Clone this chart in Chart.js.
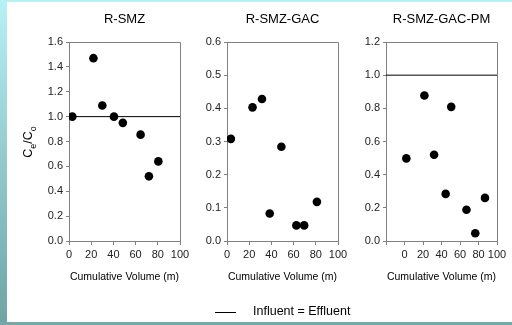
<!DOCTYPE html>
<html>
<head>
<meta charset="utf-8">
<script src="https://cdn.jsdelivr.net/npm/chart.js@4/dist/chart.umd.min.js"></script>
<style>
body{margin:0;width:512px;height:325px;overflow:hidden;position:relative;
background:linear-gradient(#b6f1f5,#6fa3a4);font-family:"Liberation Sans",Arial,sans-serif}
#page{position:absolute;left:7px;top:2px;width:505px;height:320px;background:#fff}
#bottom{position:absolute;left:0;top:322px;width:512px;height:3px;background:#76a8a9}
canvas{position:absolute;top:0}
#legend{position:absolute;left:215px;top:303px;height:18px;font-size:12.5px;color:#000;white-space:nowrap}
#legend .ln{position:absolute;left:0;top:9px;width:21px;height:1px;background:#000}
#legend .tx{position:absolute;left:38px;top:1px}
</style>
</head>
<body>
<div id="page"></div>
<div id="bottom"></div>
<canvas id="c1" width="176" height="325" style="left:19px"></canvas>
<canvas id="c2" width="176" height="325" style="left:177px"></canvas>
<canvas id="c3" width="176" height="325" style="left:336px"></canvas>
<div id="legend"><div class="ln"></div><span class="tx">Influent = Effluent</span></div>
<script>
// data
const titles = ["R-SMZ", "R-SMZ-GAC", "R-SMZ-GAC-PM"]

const smzX = [3, 22, 30, 40.5, 48.5, 64.5, 72, 80.5]
const smzY = [1.0, 1.47, 1.09, 1.0, 0.95, 0.855, 0.52, 0.64]

const gacX = [3.5, 23, 31.5, 38.5, 49, 62.5, 69.5, 81]
const gacY = [0.308, 0.403, 0.428, 0.083, 0.284, 0.047, 0.047, 0.118]

const pmX = [2, 21.5, 32, 44.5, 50.5, 67, 76.5, 87]
const pmY = [0.498, 0.877, 0.52, 0.284, 0.809, 0.188, 0.047, 0.26]

// x range per panel and y max/step
const xMin = [0, 0, -20]
const xMax = [100, 100, 100]
const yMax = [1.6, 0.6, 1.2]
const yStep = [0.2, 0.1, 0.2]

// influent = effluent line
const refY = 1.0

const axisGray = "#808080"

function pts(xs, ys){
  return xs.map((x, i) => ({x: x, y: ys[i]}))
}

const boxPlugin = {
  id: "box",
  afterDraw(chart, args, opts){
    const ctx = chart.ctx
    const a = chart.chartArea
    ctx.save()
    ctx.strokeStyle = axisGray
    ctx.lineWidth = 1
    ctx.beginPath()
    ctx.moveTo(a.left, a.top + 0.5)
    ctx.lineTo(a.right + 0.5, a.top + 0.5)
    ctx.lineTo(a.right + 0.5, a.bottom)
    ctx.stroke()
    // panel title
    ctx.fillStyle = "#000"
    ctx.font = "13px 'Liberation Sans', Arial, sans-serif"
    ctx.textAlign = "center"
    ctx.textBaseline = "middle"
    ctx.fillText(opts.title, (a.left + a.right) / 2, 19)
    // y title with subscripts (first panel only)
    if(opts.ytitle){
      ctx.translate(9, 142)
      ctx.rotate(-Math.PI / 2)
      const big = "12.5px 'Liberation Sans', Arial, sans-serif"
      const small = "9px 'Liberation Sans', Arial, sans-serif"
      const parts = [["C", big, 0], ["e", small, 3.5], ["/C", big, 0], ["o", small, 3.5]]
      let w = 0
      parts.forEach(p => { ctx.font = p[1]; w += ctx.measureText(p[0]).width })
      let x = -w / 2
      ctx.textAlign = "left"
      ctx.textBaseline = "alphabetic"
      parts.forEach(p => {
        ctx.font = p[1]
        ctx.fillText(p[0], x, 4 + p[2])
        x += ctx.measureText(p[0]).width
      })
    }
    ctx.restore()
  }
}

function makeChart(id, i, xs, ys, withLine){
  const datasets = [{
    type: "scatter",
    data: pts(xs, ys),
    backgroundColor: "#000",
    borderColor: "#000",
    borderWidth: 0,
    pointRadius: 4.3,
    pointHoverRadius: 4.3
  }]
  if(withLine){
    datasets.push({
      type: "line",
      data: [{x: xMin[i], y: refY}, {x: xMax[i], y: refY}],
      borderColor: "#000",
      borderWidth: 1,
      pointRadius: 0,
      fill: false
    })
  }
  return new Chart(document.getElementById(id), {
    type: "scatter",
    data: {datasets: datasets},
    options: {
      responsive: false,
      animation: false,
      devicePixelRatio: 1,
      layout: {padding: {top: 42, right: 15, left: 0, bottom: 0}},
      plugins: {
        legend: {display: false},
        tooltip: {enabled: false},
        box: {title: titles[i], ytitle: i === 0}
      },
      scales: {
        x: {
          type: "linear",
          min: xMin[i],
          max: xMax[i],
          afterFit: s => { s.height = 84 },
          ticks: {
            stepSize: 20,
            autoSkip: false,
            color: "#222",
            padding: 3,
            maxRotation: 0,
            font: {family: "'Liberation Sans', Arial, sans-serif", size: 11},
            callback: v => v < 0 ? "" : v
          },
          grid: {drawOnChartArea: false, drawTicks: true, tickLength: 4, color: axisGray},
          border: {color: axisGray},
          title: {
            display: true,
            text: "Cumulative Volume (m)",
            color: "#000",
            font: {family: "'Liberation Sans', Arial, sans-serif", size: 10.5},
            padding: {top: 0, bottom: 41.5}
          }
        },
        y: {
          min: 0,
          max: yMax[i],
          afterFit: s => { s.width = 50 },
          ticks: {
            stepSize: yStep[i],
            autoSkip: false,
            color: "#222",
            padding: 3,
            font: {family: "'Liberation Sans', Arial, sans-serif", size: 11},
            callback: v => v.toFixed(1)
          },
          grid: {drawOnChartArea: false, drawTicks: true, tickLength: 3, color: axisGray},
          border: {color: axisGray}
        }
      }
    },
    plugins: [boxPlugin]
  })
}

makeChart("c1", 0, smzX, smzY, true)
makeChart("c2", 1, gacX, gacY, false)
makeChart("c3", 2, pmX, pmY, true)
</script>
</body>
</html>
